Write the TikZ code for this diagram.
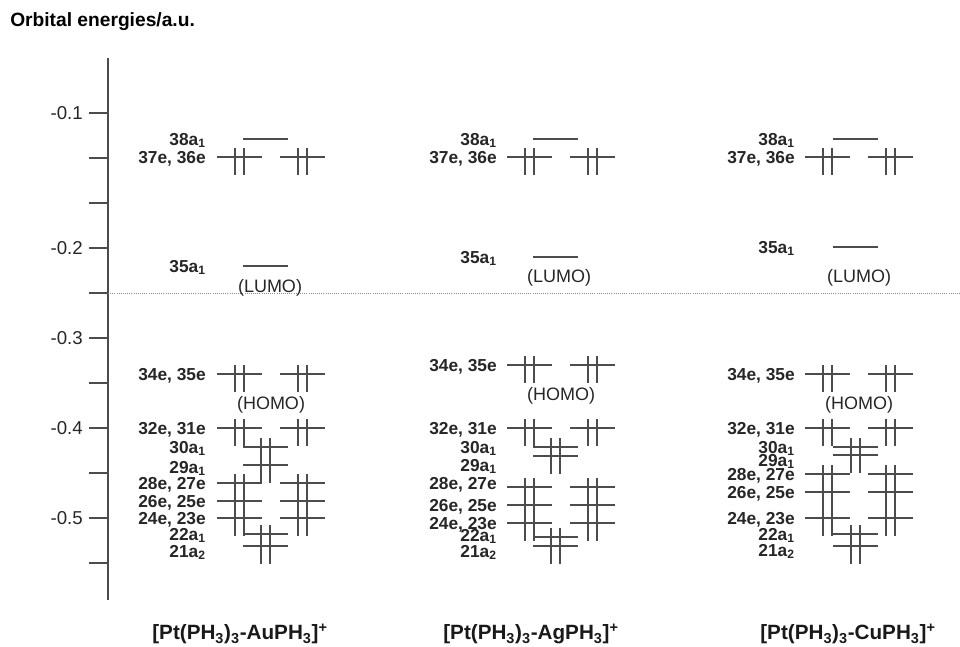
\documentclass[tikz,border=0pt]{standalone}
\usepackage{fontspec}
\setmainfont{Liberation Sans}

% occupied level (line + electron pair), empty level, e pair
\newcommand{\occ}[2]{%
  \draw[orbline] (#1,#2) -- ++(45,0);
  \draw[elec] (#1+18,#2-9) -- ++(0,27) (#1+27,#2-9) -- ++(0,27);}
\newcommand{\emp}[2]{\draw[orbline] (#1,#2) -- ++(45,0);}
\newcommand{\pairE}[2]{\occ{#1}{#2}\occ{#1+63}{#2}}

\begin{document}
\begin{tikzpicture}[x=0.75pt,y=-0.75pt,
    orbline/.style={draw=black!70, line width=1.1pt},
    elec/.style={draw=black!70, line width=1.1pt},
    axisline/.style={draw=black!70, line width=1.1pt},
    lbl/.style={anchor=base east, inner sep=0pt, text=black!85,
      font=\fontsize{13}{13}\selectfont\bfseries},
    note/.style={inner sep=0pt, text=black!85, font=\fontsize{13.5}{14}\selectfont},
    ticklbl/.style={anchor=east, inner sep=0pt, text=black!85, font=\fontsize{14}{14}\selectfont},
    cmpd/.style={inner sep=0pt, text=black!90, font=\fontsize{15.5}{16}\selectfont\bfseries},
  ]
  \useasboundingbox (0,0) rectangle (960,646);

  \node[anchor=west, inner sep=0pt, font=\fontsize{14.4}{15}\selectfont\bfseries] (title)
    at (10,22) {Orbital energies/a.u.};

  % energy axis
  \draw[axisline] (108,58) -- (108,600);
  \foreach \y in {113,158,...,563}
    \draw[axisline] (89,\y) -- (108,\y);
  \foreach \y/\v in {113/-0.1,248/-0.2,338/-0.3,428/-0.4,518/-0.5}
    \node[ticklbl] (tick\y) at (83,\y) {\v};
  \draw[black!45, line width=0.6pt, densely dotted] (108,293) -- (960,293);

  % Au
  \emp{243}{139}\node[lbl] (au-38) at (206,145) {38a\textsubscript{1}};
  \emp{243}{266}\node[lbl] (au-35) at (206,272) {35a\textsubscript{1}};
  \foreach \y/\t in {157/{37e, 36e},374/{34e, 35e},428/{32e, 31e},483/{28e, 27e},501/{26e, 25e},518/{24e, 23e}}
    {\pairE{217}{\y}\node[lbl] (au-e\y) at (206,\y+6) {\t};}
  \foreach \y/\ly/\t in {447/447/30a\textsubscript{1},465/467/29a\textsubscript{1},534/534/22a\textsubscript{1},546/551/21a\textsubscript{2}}
    {\occ{243}{\y}\node[lbl] (au-a\y) at (206,\ly+6) {\t};}
  \node[note] (au-lumo) at (270,288) {(LUMO)};
  \node[note] (au-homo) at (271,405) {(HOMO)};

  % Ag
  \emp{533}{139}\node[lbl] (ag-38) at (497,145) {38a\textsubscript{1}};
  \emp{533}{257}\node[lbl] (ag-35) at (497,263) {35a\textsubscript{1}};
  \foreach \y/\ly/\t in {157/157/{37e, 36e},365/365/{34e, 35e},428/428/{32e, 31e},487/483/{28e, 27e},505/505/{26e, 25e},523/523/{24e, 23e}}
    {\pairE{507}{\y}\node[lbl] (ag-e\y) at (497,\ly+6) {\t};}
  \foreach \y/\ly/\t in {447/447/30a\textsubscript{1},456/465/29a\textsubscript{1},537/535/22a\textsubscript{1},546/551/21a\textsubscript{2}}
    {\occ{533}{\y}\node[lbl] (ag-a\y) at (497,\ly+6) {\t};}
  \node[note] (ag-lumo) at (559,278) {(LUMO)};
  \node[note] (ag-homo) at (561,396) {(HOMO)};

  % Cu
  \emp{833}{139}\node[lbl] (cu-38) at (795,145) {38a\textsubscript{1}};
  \emp{833}{247}\node[lbl] (cu-35) at (795,253) {35a\textsubscript{1}};
  \foreach \y/\t in {157/{37e, 36e},374/{34e, 35e},428/{32e, 31e},474/{28e, 27e},492/{26e, 25e},518/{24e, 23e}}
    {\pairE{805}{\y}\node[lbl] (cu-e\y) at (795,\y+6) {\t};}
  \foreach \y/\ly/\t in {447/447/30a\textsubscript{1},455/460/29a\textsubscript{1},534/534/22a\textsubscript{1},546/550/21a\textsubscript{2}}
    {\occ{833}{\y}\node[lbl] (cu-a\y) at (795,\ly+6) {\t};}
  \node[note] (cu-lumo) at (859,278) {(LUMO)};
  \node[note] (cu-homo) at (859,405) {(HOMO)};

  \node[cmpd] (au-name) at (240,634) {[Pt(PH\textsubscript{3})\textsubscript{3}-AuPH\textsubscript{3}]\textsuperscript{+}};
  \node[cmpd] (ag-name) at (531,634) {[Pt(PH\textsubscript{3})\textsubscript{3}-AgPH\textsubscript{3}]\textsuperscript{+}};
  \node[cmpd] (cu-name) at (848,634) {[Pt(PH\textsubscript{3})\textsubscript{3}-CuPH\textsubscript{3}]\textsuperscript{+}};
\end{tikzpicture}
\end{document}
